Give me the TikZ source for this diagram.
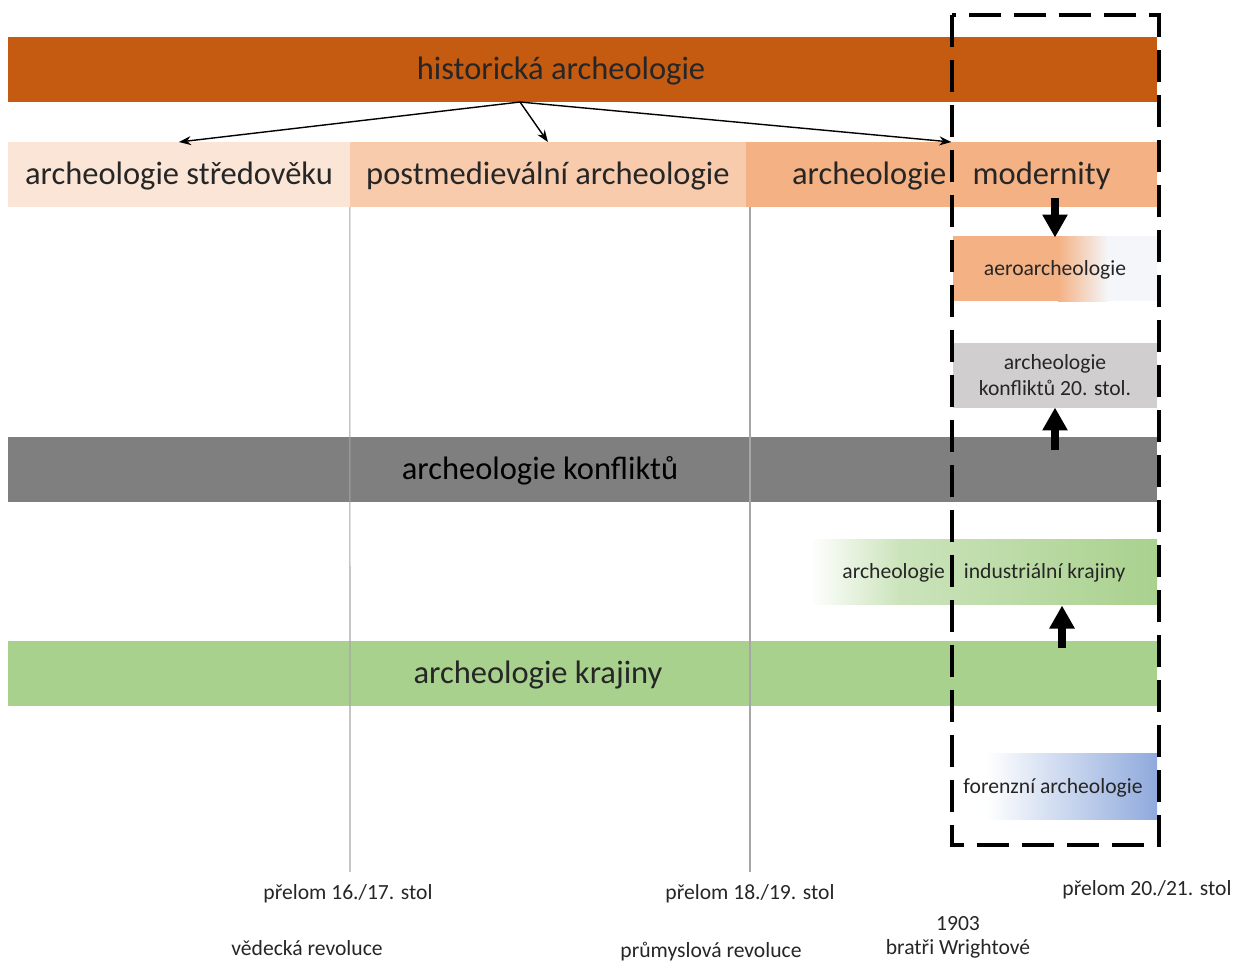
\documentclass[tikz,border=0pt]{standalone}
\usepackage{fontspec}
\setmainfont{Carlito}
\usetikzlibrary{positioning,arrows.meta}
\definecolor{histbrown}{HTML}{C55A11}
\definecolor{stredcol}{HTML}{FBE5D6}
\definecolor{postcol}{HTML}{F8CBAD}
\definecolor{moderncol}{HTML}{F4B183}
\definecolor{aerolight}{HTML}{F4F6FA}
\definecolor{konflight}{HTML}{D0CECE}
\definecolor{konfdark}{HTML}{7F7F7F}
\definecolor{krajgreen}{HTML}{A9D18E}
\definecolor{forenblue}{HTML}{8FAADC}
\definecolor{textgray}{HTML}{262626}
\definecolor{markgray}{HTML}{A6A6A6}
\newcommand{\bigfont}{\fontsize{18.5}{22}\selectfont}
\newcommand{\smallfont}{\fontsize{12.3}{14.8}\selectfont}
\tikzset{%
  band/.style={anchor=west,minimum height=1.3cm,inner sep=0pt,outer sep=0pt,text=textgray,font=\bigfont,
    text height=1.3em,text depth=0.2em},
  bandtext/.style={inner sep=0pt,text=textgray,font=\bigfont,text height=1.3em,text depth=0.2em},
  box/.style={minimum width=4.08cm,minimum height=1.3cm,inner sep=0pt,outer sep=0pt,text=textgray,font=\smallfont,align=center},
  note/.style={inner sep=0pt,text=textgray,font=\smallfont},
  forkarrow/.style={line width=0.8pt,-{Stealth[length=0.24cm,width=0.18cm]}},
  fatarrow/.style={line width=0.16cm,-{Triangle[length=0.46cm,width=0.48cm]}},
  markline/.style={markgray,line width=0.6pt},
  periodframe/.style={line width=1.8pt,dash pattern=on 0.64cm off 0.26cm}
}

\begin{document}
\begin{tikzpicture}[x=0.02cm,y=-0.02cm]
  \useasboundingbox (0,0) rectangle (1234,961);

  % fades behind the small boxes
  \fill[moderncol] (953,236) rectangle (1058,301);
  \shade[left color=moderncol,right color=aerolight] (1058,236) rectangle (1108,301);
  \fill[aerolight] (1108,236) rectangle (1157,301);
  \shade[left color=white,right color=krajgreen!60] (810,539) rectangle (900,604);
  \shade[left color=krajgreen!60,right color=krajgreen] (900,539) rectangle (1157,604);
  \shade[left color=white,right color=forenblue] (985,753) rectangle (1157,819);

  % wide bands
  \node[band,fill=histbrown,minimum width=22.98cm] (hist) at (8,69.5) {};
  \node[band,fill=konfdark,minimum width=22.98cm] (konflikt) at (8,469.5) {};
  \node[band,fill=krajgreen,minimum width=22.98cm] (krajina) at (8,673.5) {};

  % periods
  \node[band,fill=stredcol,minimum width=6.84cm] (stred) at (8,174.5) {archeologie středověku};
  \node[band,fill=postcol,minimum width=7.92cm,right=0pt of stred] (postmed) {postmedievální archeologie};
  \node[band,fill=moderncol,minimum width=8.22cm,right=0pt of postmed] (modern) {archeologie\hspace{0.53cm}modernity};

  % time marks
  \coordinate (cut1) at (350,872);
  \coordinate (cut2) at (750,872);
  \draw[markline] (stred.south east) -- (cut1);
  \draw[markline] (cut2 |- postmed.south) -- (cut2);

  \node[bandtext] (histlabel) at (561,69.5) {historická archeologie};
  \node[bandtext,text=black] (konfliktlabel) at (540,469.5) {archeologie konfliktů};
  \node[bandtext] (krajinalabel) at (538,673.5) {archeologie krajiny};

  \node[box] (aero) at (1055,270) {aeroarcheologie};
  \node[box,fill=konflight] (konf20) at (1055,375) {archeologie\\konfliktů 20. stol.};
  \node[box,minimum width=6.94cm] (ind) at (984,573) {archeologie\hspace{0.38cm}industriální krajiny};
  \node[box] (foren) at (1053,787.5) {forenzní archeologie};

  % split of historical archaeology
  \coordinate (fork) at (520,102);
  \draw[forkarrow] (fork) -- (stred.north);
  \draw[forkarrow] (fork) -- (postmed.north);
  \draw[forkarrow] (fork) -- (modern.north);

  \draw[fatarrow] (1055,198) -- (aero.north);
  \draw[fatarrow] (1055,450) -- (konf20.south);
  \draw[fatarrow] (1062,648) -- (1062,0 |- ind.south);

  \draw[periodframe] (952,15) rectangle (1159,845);

  \node[note] (t1617) at (348,894) {přelom 16./17. stol};
  \node[note] (vedecka) at (307,948) {vědecká revoluce};
  \node[note] (t1819) at (750,894) {přelom 18./19. stol};
  \node[note] (prumysl) at (711,952) {průmyslová revoluce};
  \node[note] (y1903) at (958,924) {1903};
  \node[note] (wright) at (958,949) {bratři Wrightové};
  \node[note] (t2021) at (1147,890) {přelom 20./21. stol};
\end{tikzpicture}
\end{document}
